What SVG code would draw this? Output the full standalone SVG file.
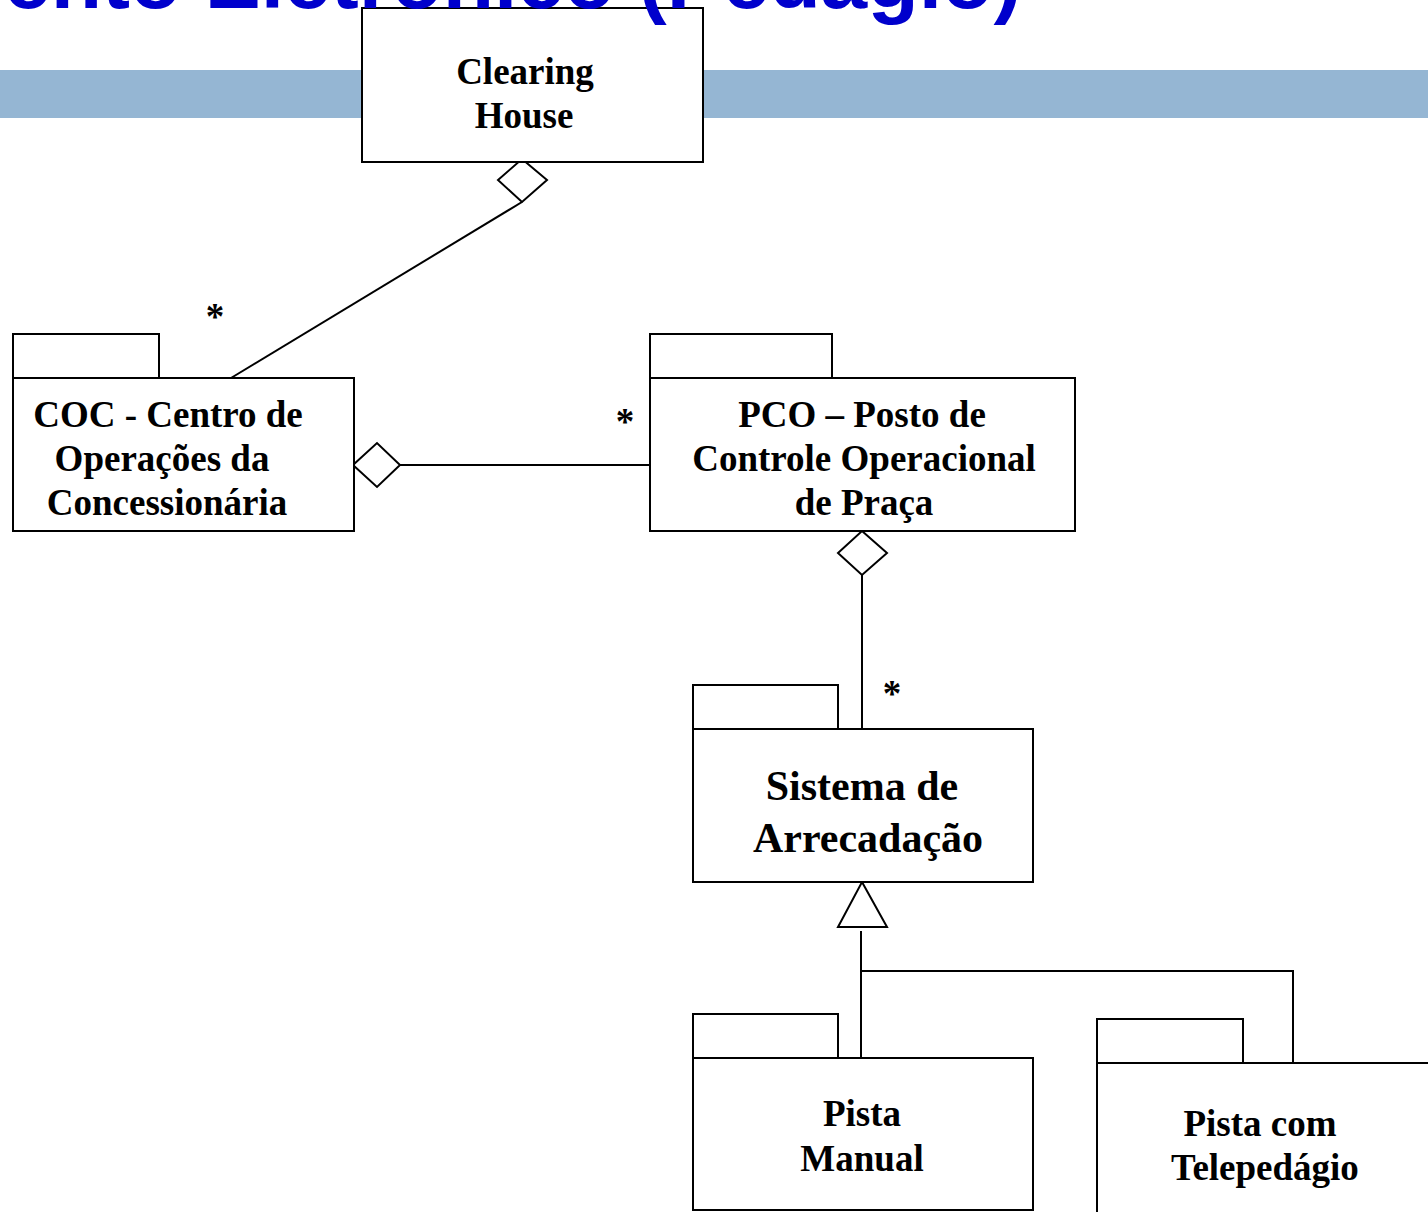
<svg xmlns="http://www.w3.org/2000/svg" width="1428" height="1212" viewBox="0 0 1428 1212">
  <style>
    .box { fill: #ffffff; stroke: #000000; stroke-width: 2; }
    .line { fill: none; stroke: #000000; stroke-width: 2; }
    .head { fill: #ffffff; stroke: #000000; stroke-width: 2; }
    .lbl { font-family: "Liberation Serif", "Times New Roman", serif; font-weight: bold; font-size: 37px; fill: #000000; text-anchor: middle; }
    .big { font-size: 42px; }
    .mult { font-family: "Liberation Serif", "Times New Roman", serif; font-weight: bold; font-size: 37px; fill: #000000; text-anchor: middle; }
    .title { font-family: "Liberation Sans", Arial, sans-serif; font-weight: bold; font-size: 84px; fill: #0000CC; }
  </style>

  <!-- header band -->
  <rect x="0" y="70" width="1428" height="48" fill="#95B6D3"/>

  <!-- connectors -->
  <g id="connectors">
    <!-- Clearing House <>— COC -->
    <polygon class="head" points="522,159 547,180 522,202 498,180"/>
    <line class="line" x1="522" y1="202" x2="231" y2="378"/>
    <!-- COC <>— PCO -->
    <polygon class="head" points="353,465 377,443 400,465 377,487"/>
    <line class="line" x1="400" y1="465" x2="650" y2="465"/>
    <!-- PCO <>— Sistema de Arrecadação -->
    <polygon class="head" points="862,531 887,553 862,575 838,553"/>
    <line class="line" x1="862" y1="575" x2="862" y2="729"/>
    <!-- generalization: Pista Manual / Pista com Telepedágio -> Sistema de Arrecadação -->
    <polygon class="head" points="862,882 887,927 838,927"/>
    <polyline class="line" points="861,931 861,1058"/>
    <polyline class="line" points="861,971 1293,971 1293,1067"/>
    <!-- multiplicities -->
    <text class="mult" x="215" y="329">*</text>
    <text class="mult" x="625" y="434">*</text>
    <text class="mult" x="892" y="706">*</text>
  </g>

  <g id="clearing-house">
    <rect class="box" x="362" y="8" width="341" height="154"/>
    <line class="line" x1="362" y1="8" x2="506" y2="8" stroke-width="3"/>
    <text class="lbl" x="525" y="84">Clearing</text>
    <text class="lbl" x="524" y="128">House</text>
  </g>

  <g id="coc">
    <rect class="box" x="13" y="334" width="146" height="44"/>
    <rect class="box" x="13" y="378" width="341" height="153"/>
    <text class="lbl" x="168" y="427">COC - Centro de</text>
    <text class="lbl" x="162" y="471">Operações da</text>
    <text class="lbl" x="167" y="515">Concessionária</text>
  </g>

  <g id="pco">
    <rect class="box" x="650" y="334" width="182" height="44"/>
    <rect class="box" x="650" y="378" width="425" height="153"/>
    <text class="lbl" x="862" y="427">PCO – Posto de</text>
    <text class="lbl" x="864" y="471">Controle Operacional</text>
    <text class="lbl" x="864" y="515">de Praça</text>
  </g>

  <g id="sistema-arrecadacao">
    <rect class="box" x="693" y="685" width="145" height="44"/>
    <rect class="box" x="693" y="729" width="340" height="153"/>
    <text class="lbl big" x="862" y="800">Sistema de</text>
    <text class="lbl big" x="868" y="852">Arrecadação</text>
  </g>

  <g id="pista-manual">
    <rect class="box" x="693" y="1014" width="145" height="44"/>
    <rect class="box" x="693" y="1058" width="340" height="152"/>
    <text class="lbl" x="862" y="1126">Pista</text>
    <text class="lbl" x="862" y="1171">Manual</text>
  </g>

  <g id="pista-telepedagio">
    <rect class="box" x="1097" y="1019" width="146" height="44"/>
    <rect class="box" x="1097" y="1063" width="360" height="170"/>
    <text class="lbl" x="1260" y="1136">Pista com</text>
    <text class="lbl" x="1265" y="1180">Telepedágio</text>
  </g>

  <!-- page title, running off the top edge -->
  <text class="title" x="4" y="8">ento Eletrônico (Pedágio)</text>
</svg>
